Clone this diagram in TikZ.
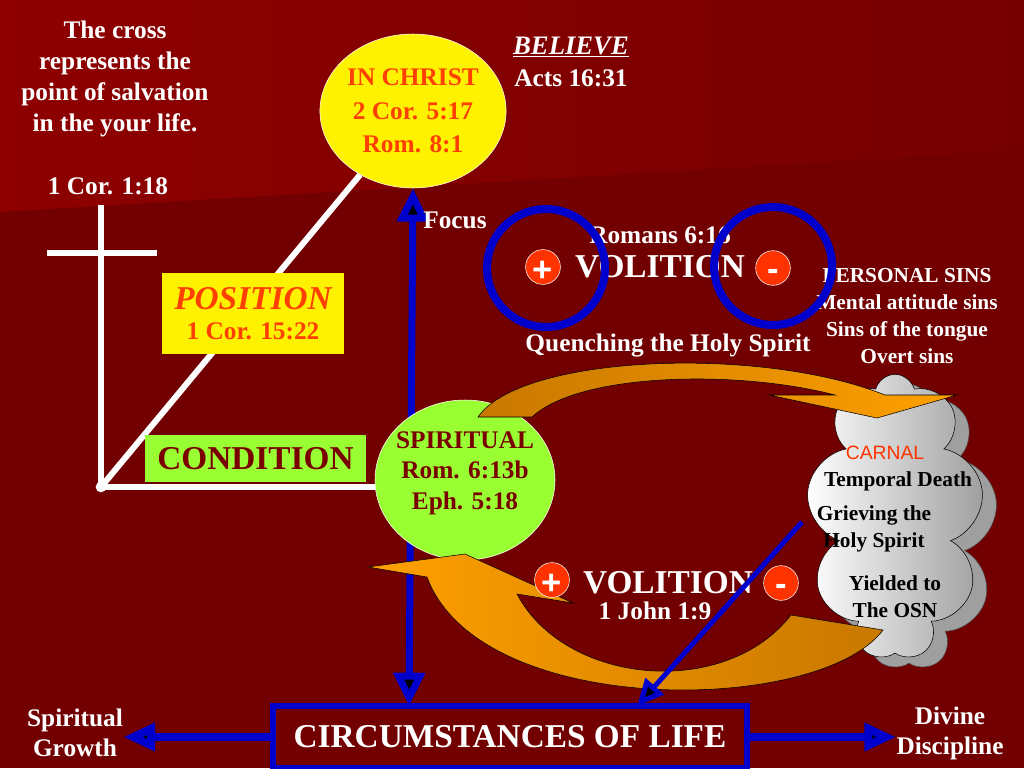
\documentclass[tikz,border=0pt]{standalone}
\usepackage{fontspec}
\setmainfont{Liberation Serif}
\setsansfont{Liberation Sans}
\usepackage{tikz}
\usetikzlibrary{arrows.meta, shapes.geometric, shapes.symbols}

\definecolor{bgdark}{HTML}{730000}
\definecolor{bglight}{HTML}{8E0000}
\definecolor{bgmid}{HTML}{760000}
\definecolor{lifeblue}{HTML}{0000CC}
\definecolor{hotred}{HTML}{FF4000}
\definecolor{lime}{HTML}{99FF33}
\definecolor{maroon}{HTML}{7A0000}
\definecolor{signred}{HTML}{FF3300}
\definecolor{orangeA}{HTML}{C87800}
\definecolor{orangeB}{HTML}{FFA000}

\begin{document}
\begin{tikzpicture}[x=0.75pt,y=-0.75pt,
  wtext/.style={text=white,font=\fontsize{19}{23.25}\selectfont\bfseries,align=center,inner sep=0pt},
  bigtext/.style={wtext,font=\fontsize{25}{30}\selectfont\bfseries},
  sinstext/.style={wtext,font=\fontsize{16}{20.25}\selectfont\bfseries},
  cloudtext/.style={text=black,font=\fontsize{16}{20.25}\selectfont\bfseries,align=center,inner sep=0pt},
  wline/.style={draw=white,line width=4.5pt},
  bline/.style={draw=lifeblue,line width=5.25pt},
  onehead/.style={-{Triangle[length=20pt,width=18pt]}},
  sidehead/.style={-{Triangle[length=24pt,width=20pt]}},
  bothheads/.style={{Triangle[length=25pt,width=23pt]}-{Triangle[length=25pt,width=23pt]}},
  ring/.style={circle,draw=lifeblue,line width=6pt,minimum size=88.5pt},
  sign/.style={circle,fill=signred,draw=white,thin,minimum size=26pt,inner sep=0pt,text=white,font=\fontsize{26}{26}\selectfont\sffamily\bfseries},
  plussign/.style={sign,text height=21.3pt,text depth=0pt},
  minussign/.style={sign,text height=19pt,text depth=0pt},
  puff/.style={cloud,cloud puffs=9,cloud ignores aspect,minimum width=133pt,minimum height=214pt,thin},
  swoosh/.style={draw=black,thin}
]
\useasboundingbox (0,0) rectangle (1024,768);
\fill[bgdark] (0,0) rectangle (1024,768);
\shade[left color=bglight,right color=bgmid] (0,0) -- (1024,0) -- (1024,150) -- (0,212) -- cycle;

\node[draw=lifeblue,line width=4.5pt,minimum width=355.5pt,minimum height=46.5pt,inner sep=0pt,text=white,font=\fontsize{25}{30}\selectfont\bfseries] (life) at (510,737) {CIRCUMSTANCES OF LIFE};
\node[wtext,font=\fontsize{19}{22.5}\selectfont\bfseries] (growth) at (75,733) {Spiritual\\Growth};
\node[wtext,font=\fontsize{19}{22.5}\selectfont\bfseries] (discipline) at (950,733) {Divine\\Discipline};

\node[wtext] (crossnote) at (115,79) {The cross\\represents the\\point of salvation\\in the your life.};
\node[wtext] (crossref) at (108,186) {1 Cor. 1:18};
\node[wtext,font=\fontsize{20}{24}\selectfont\bfseries] (believe) at (571,47) {\underline{\textit{BELIEVE}}};
\node[wtext] (acts) at (571,78) {Acts 16:31};

\node[ellipse,fill=yellow,draw=white,minimum width=121.5pt,minimum height=115.5pt,inner sep=0pt,text=hotred,font=\fontsize{19}{25}\selectfont\bfseries,align=center] (christ) at (413,111) {IN CHRIST\\2 Cor. 5:17\\Rom. 8:1};

\node[circle,fill=white,inner sep=0pt,minimum size=8pt] (corner) at (101,487) {};
\coordinate (crosstop) at (101,205);
\coordinate (barleft) at (47,253);
\coordinate (barright) at (157,253);
\coordinate (hlineend) at (420,487);
\path[wline]
(corner.center) edge (crosstop)
(barleft) edge (barright)
(corner.center) edge (christ)
(corner.center) edge (hlineend)
;

\node[fill=yellow,minimum width=136.5pt,minimum height=60.75pt,inner sep=0pt,text=hotred,align=center,font=\fontsize{19}{22.5}\selectfont\bfseries] (position) at (253,313.5) {{\fontsize{25}{25}\selectfont\itshape POSITION}\\1 Cor. 15:22};
\node[fill=lime,minimum width=165.75pt,minimum height=35.25pt,inner sep=0pt,text=maroon,font=\fontsize{25}{30}\selectfont\bfseries] (condition) at (255.5,458.5) {CONDITION};

\coordinate (focusfoot) at (409,706);
\path[bline]
(focusfoot) edge[bothheads] (christ.south)
;
\node[wtext] (focus) at (455,220) {Focus};

\node[ellipse,fill=lime,draw=white,minimum width=135pt,minimum height=120pt,inner sep=0pt] (spirit) at (465,480) {};
\node[text=maroon,font=\fontsize{19}{23}\selectfont\bfseries,align=center,inner sep=0pt] (spirittext) at (465,473) {SPIRITUAL\\Rom. 6:13b\\Eph. 5:18};

\node[puff,fill=gray!75,draw=gray!60!black] (cloudshade) at (909,527) {};
\node[puff,draw=black,left color=white,right color=gray!75] (cloud) at (895,517) {};
\node[cloudtext,text=signred,font=\fontsize{14.5}{17}\selectfont\sffamily] (carnal) at (885,453) {CARNAL};
\node[cloudtext] (death) at (898,481) {Temporal Death};
\node[cloudtext] (grieving) at (874,529) {Grieving the\\Holy Spirit};
\node[cloudtext] (yielded) at (895,597) {Yielded to\\The OSN};

\path[swoosh,left color=orangeA,right color=orangeB] (478,417) .. controls (520,355) and (760,345) .. (885,395) -- (957,395) -- (877,418) -- (769,395) -- (835,395) .. controls (740,370) and (580,372) .. (532,417) -- cycle;
\path[swoosh,left color=orangeB,right color=orangeA] (368,567) -- (465,554) -- (573,603) -- (517,594) .. controls (565,685) and (725,700) .. (791,615) -- (883,630) .. controls (820,715) and (480,720) .. (427,577) -- cycle;

\node[wtext] (romans) at (660,235) {Romans 6:16};
\node[bigtext] (volup) at (660,267) {VOLITION};
\node[wtext] (quench) at (668,345) {Quenching the Holy Spirit};
\node[sinstext] (sins) at (907,316) {PERSONAL SINS\\Mental attitude sins\\Sins of the tongue\\Overt sins};
\node[bigtext] (voldown) at (668,583) {VOLITION};
\node[wtext] (john) at (655,611) {1 John 1:9};

\node[ring] (ringplus) at (546,268) {};
\node[ring] (ringminus) at (773,266) {};
\node[plussign] (plusup) at (543,267) {+};
\node[minussign] (minusup) at (773,268) {-};
\node[plussign] (plusdown) at (552,580) {+};
\node[minussign] (minusdown) at (781,583) {-};

\coordinate (grieve) at (802,522);
\coordinate (sinsfoot) at (637,706);
\path[bline]
(grieve) edge[line width=3.75pt,onehead] (sinsfoot)
(life.west) edge[line width=6pt,sidehead] (life.west -| growth.east)
(life.east) edge[line width=6pt,sidehead] (life.east -| discipline.west)
;
\end{tikzpicture}
\end{document}
